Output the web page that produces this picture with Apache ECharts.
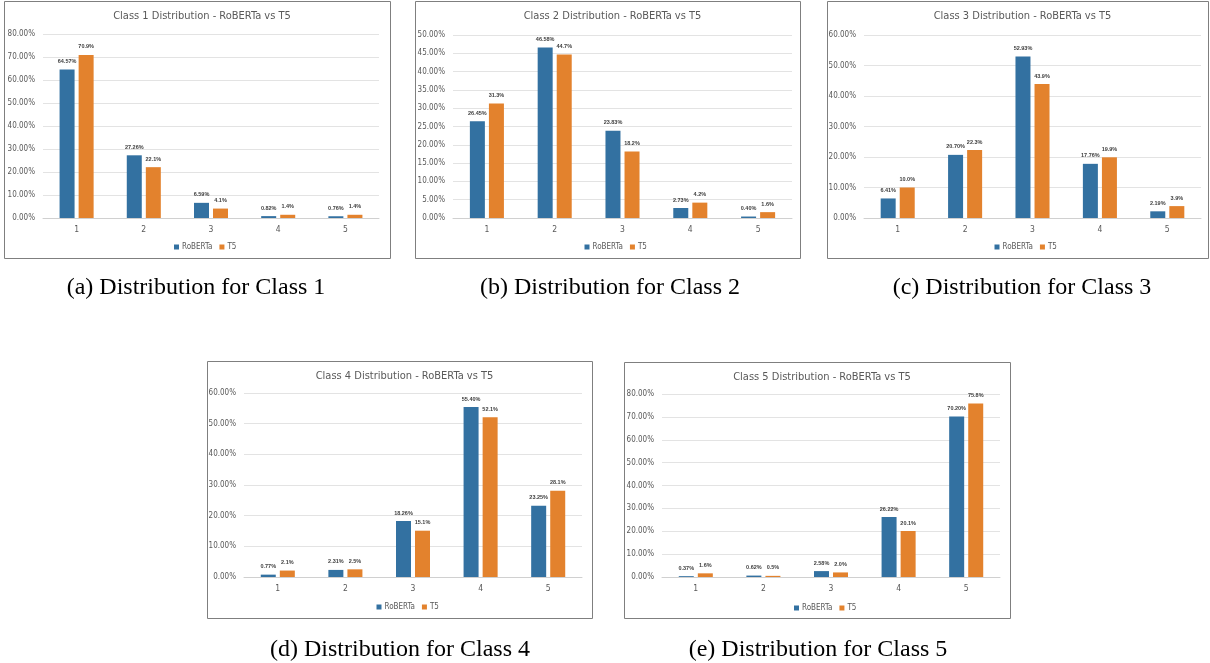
<!DOCTYPE html>
<html>
<head>
<meta charset="utf-8">
<script src="https://cdn.jsdelivr.net/npm/echarts@6/dist/echarts.min.js"></script>
<style>
  html, body { margin: 0; padding: 0; background: #fff; }
  #chart { width: 1210px; height: 663px; }
</style>
</head>
<body>
<div id="chart"></div>
<script>
// Rating categories shared by every panel
const categories = ['1', '2', '3', '4', '5'];
const seriesNames = ['RoBERTa', 'T5'];

// Share of predictions (%) per rating, one pair of arrays per true class
const class1Roberta = [64.57, 27.26, 6.59, 0.82, 0.76];
const class1T5 = [70.9, 22.1, 4.1, 1.4, 1.4];
const class2Roberta = [26.45, 46.58, 23.83, 2.73, 0.40];
const class2T5 = [31.3, 44.7, 18.2, 4.2, 1.6];
const class3Roberta = [6.41, 20.70, 52.93, 17.76, 2.19];
const class3T5 = [10.0, 22.3, 43.9, 19.9, 3.9];
const class4Roberta = [0.77, 2.31, 18.26, 55.40, 23.25];
const class4T5 = [2.1, 2.5, 15.1, 52.1, 28.1];
const class5Roberta = [0.37, 0.62, 2.58, 26.22, 70.20];
const class5T5 = [1.6, 0.5, 2.0, 20.1, 75.8];

// Y axis ranges (%)
const axisMax = [80, 50, 60, 60, 80];
const axisStep = [10, 5, 10, 10, 10];

const chartTitles = [
  'Class 1 Distribution - RoBERTa vs T5',
  'Class 2 Distribution - RoBERTa vs T5',
  'Class 3 Distribution - RoBERTa vs T5',
  'Class 4 Distribution - RoBERTa vs T5',
  'Class 5 Distribution - RoBERTa vs T5'
];
const captions = [
  '(a) Distribution for Class 1',
  '(b) Distribution for Class 2',
  '(c) Distribution for Class 3',
  '(d) Distribution for Class 4',
  '(e) Distribution for Class 5'
];

const robertaData = [class1Roberta, class2Roberta, class3Roberta, class4Roberta, class5Roberta];
const t5Data = [class1T5, class2T5, class3T5, class4T5, class5T5];

// Layout: framed panel box and plot area inside it
const panels = [
  { x: 4,   y: 1,   w: 386, h: 257, plot: { l: 43,  r: 379,  t: 34,  b: 218 }, cap: { x: 196, y: 288 } },
  { x: 415, y: 1,   w: 385, h: 257, plot: { l: 453, r: 792,  t: 35,  b: 218 }, cap: { x: 610, y: 288 } },
  { x: 827, y: 1,   w: 381, h: 257, plot: { l: 864, r: 1201, t: 35,  b: 218 }, cap: { x: 1022, y: 288 } },
  { x: 207, y: 361, w: 385, h: 257, plot: { l: 244, r: 582,  t: 393, b: 577 }, cap: { x: 400, y: 650 } },
  { x: 624, y: 362, w: 386, h: 256, plot: { l: 662, r: 1000, t: 394, b: 577 }, cap: { x: 818, y: 650 } }
];

const BLUE = '#3371a1';
const ORANGE = '#e3822d';
const AXIS_TEXT = '#595959';
const UI_FONT = "'Liberation Sans Narrow', 'DejaVu Sans Condensed', 'Liberation Sans', sans-serif";

const grid = [], xAxis = [], yAxis = [], series = [], title = [], legend = [], graphic = [];

panels.forEach((p, i) => {
  grid.push({
    left: p.plot.l, top: p.plot.t,
    width: p.plot.r - p.plot.l, height: p.plot.b - p.plot.t,
    containLabel: false
  });
  xAxis.push({
    type: 'category', gridIndex: i, data: categories,
    axisTick: { show: false },
    axisLine: { lineStyle: { color: '#d0d0d0', width: 1 } },
    axisLabel: { color: AXIS_TEXT, fontSize: 8.5, fontFamily: UI_FONT, margin: 7 }
  });
  yAxis.push({
    type: 'value', gridIndex: i, min: 0, max: axisMax[i], interval: axisStep[i],
    axisLine: { show: false }, axisTick: { show: false },
    splitLine: { lineStyle: { color: '#e3e3e3', width: 1 } },
    axisLabel: {
      color: AXIS_TEXT, fontSize: 8, fontFamily: UI_FONT, margin: 8,
      formatter: v => v.toFixed(2) + '%'
    }
  });
  const labelStyle = {
    show: true, position: 'top', distance: 5,
    fontSize: 5.5, fontWeight: 'bold', color: '#404040', fontFamily: "'Liberation Sans', sans-serif"
  };
  series.push({
    name: seriesNames[0], type: 'bar', xAxisIndex: i, yAxisIndex: i,
    data: robertaData[i], barWidth: 15, barGap: '27%',
    itemStyle: { color: BLUE },
    label: Object.assign({}, labelStyle, { formatter: d => d.value.toFixed(2) + '%' })
  });
  series.push({
    name: seriesNames[1], type: 'bar', xAxisIndex: i, yAxisIndex: i,
    data: t5Data[i], barWidth: 15, barGap: '27%',
    itemStyle: { color: ORANGE },
    label: Object.assign({}, labelStyle, { formatter: d => d.value.toFixed(1) + '%' })
  });
  title.push({
    text: chartTitles[i],
    left: p.x + p.w / 2, top: p.y + 5, textAlign: 'center',
    textStyle: { color: AXIS_TEXT, fontSize: 11, fontWeight: 'normal', fontFamily: UI_FONT }
  });
  legend.push({
    data: seriesNames,
    left: p.x + p.w / 2 - 28, top: p.y + 237,
    itemWidth: 5, itemHeight: 5, itemGap: 7,
    icon: 'rect',
    textStyle: { color: AXIS_TEXT, fontSize: 8, fontFamily: UI_FONT, padding: [0, 0, 0, -2] },
    selectedMode: false
  });
  graphic.push({
    type: 'rect', silent: true,
    shape: { x: p.x + 0.5, y: p.y + 0.5, width: p.w, height: p.h },
    style: { fill: 'none', stroke: '#7f7f7f', lineWidth: 1 }
  });
  graphic.push({
    type: 'text', silent: true,
    x: p.cap.x, y: p.cap.y,
    style: {
      text: captions[i], fill: '#000',
      font: "24px 'Liberation Serif', 'Times New Roman', serif",
      textAlign: 'center', textVerticalAlign: 'middle'
    }
  });
});

const chart = echarts.init(document.getElementById('chart'), null, { renderer: 'canvas' });
chart.setOption({
  animation: false,
  backgroundColor: '#fff',
  title, legend, grid, xAxis, yAxis, series, graphic
});
</script>
</body>
</html>
